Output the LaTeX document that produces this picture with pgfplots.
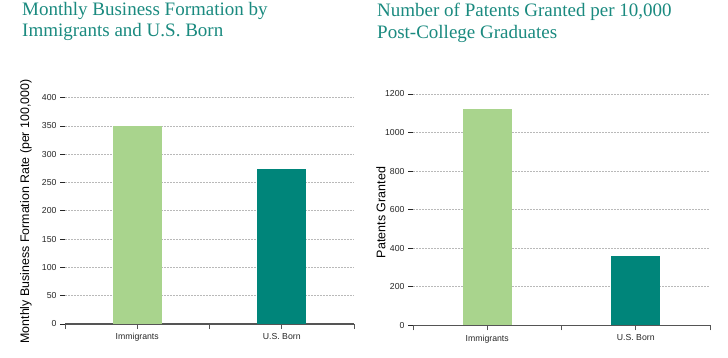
\documentclass[border=0pt]{standalone}
\usepackage{pgfplots}
\pgfplotsset{compat=1.18}
\usepackage{fontspec}
\setmainfont{Liberation Serif}
\setsansfont{Liberation Sans}
\definecolor{titleteal}{HTML}{1A8A7F}
\definecolor{lgreen}{HTML}{A9D48D}
\definecolor{dteal}{HTML}{00857A}
\definecolor{axgray}{HTML}{555555}
\begin{document}
\begin{tikzpicture}
\path[use as bounding box] (0pt,0pt) rectangle (728pt,357pt);
\pgfplotsset{
  mystyle/.style={
    scale only axis,
    anchor=south west,
    xmin=-0.5, xmax=1.5, ymin=0,
    axis x line=bottom, axis y line=left,
    axis line style={-},
    y axis line style={draw=none},
    x axis line style={draw=axgray, line width=1.3pt},
    tick align=outside,
    ytick style={draw=black!85, line width=0.8pt},
    major tick length=5pt,
    ymajorgrids,
    grid style={draw=gray!55, line width=0.8pt, dash pattern=on 2pt off 1pt},
    xtick={-0.5,0.5,1.5}, xticklabels={},
    xtick style={draw=axgray, line width=0.8pt},
    extra x ticks={0,1},
    extra x tick labels={Immigrants,U.S. Born},
    extra x tick style={tick style={draw=none}},
    xticklabel style={yshift=-1pt},
    tick label style={font=\sffamily\fontsize{8.7}{10}\selectfont, text=black!85},
    /pgf/number format/assume math mode=true,
    /pgf/number format/1000 sep={},
    clip=false,
  }
}
\begin{axis}[mystyle, at={(65pt,33pt)}, width=289pt, height=226.3pt,
  ymax=400, ytick={0,50,...,400}]
  \addplot[ybar, bar width=49pt, bar shift=0pt, fill=lgreen, draw=none] coordinates {(0,350)};
  \addplot[ybar, bar width=49pt, bar shift=0pt, fill=dteal, draw=none] coordinates {(1,274)};
\end{axis}
\begin{axis}[mystyle, at={(413pt,31.7pt)}, width=297pt, height=231.3pt,
  ymax=1200, ytick={0,200,...,1200}]
  \addplot[ybar, bar width=49pt, bar shift=0pt, fill=lgreen, draw=none] coordinates {(0,1120)};
  \addplot[ybar, bar width=49pt, bar shift=0pt, fill=dteal, draw=none] coordinates {(1,360)};
\end{axis}
\node[rotate=90, font=\sffamily\fontsize{12.4}{14}\selectfont] at (26pt,145.5pt) {Monthly Business Formation Rate (per 100,000)};
\node[rotate=90, font=\sffamily\fontsize{12.5}{14}\selectfont] at (381pt,144.5pt) {Patents Granted};
\begin{scope}[every node/.style={anchor=base west, inner sep=0pt, text=titleteal, font=\fontsize{19}{21}\selectfont}]
\node at (22pt,341pt) {Monthly Business Formation by};
\node at (22pt,320pt) {Immigrants and U.S. Born};
\node at (377pt,340pt) {Number of Patents Granted per 10,000};
\node at (377pt,318.5pt) {Post-College Graduates};
\end{scope}
\end{tikzpicture}
\end{document}
